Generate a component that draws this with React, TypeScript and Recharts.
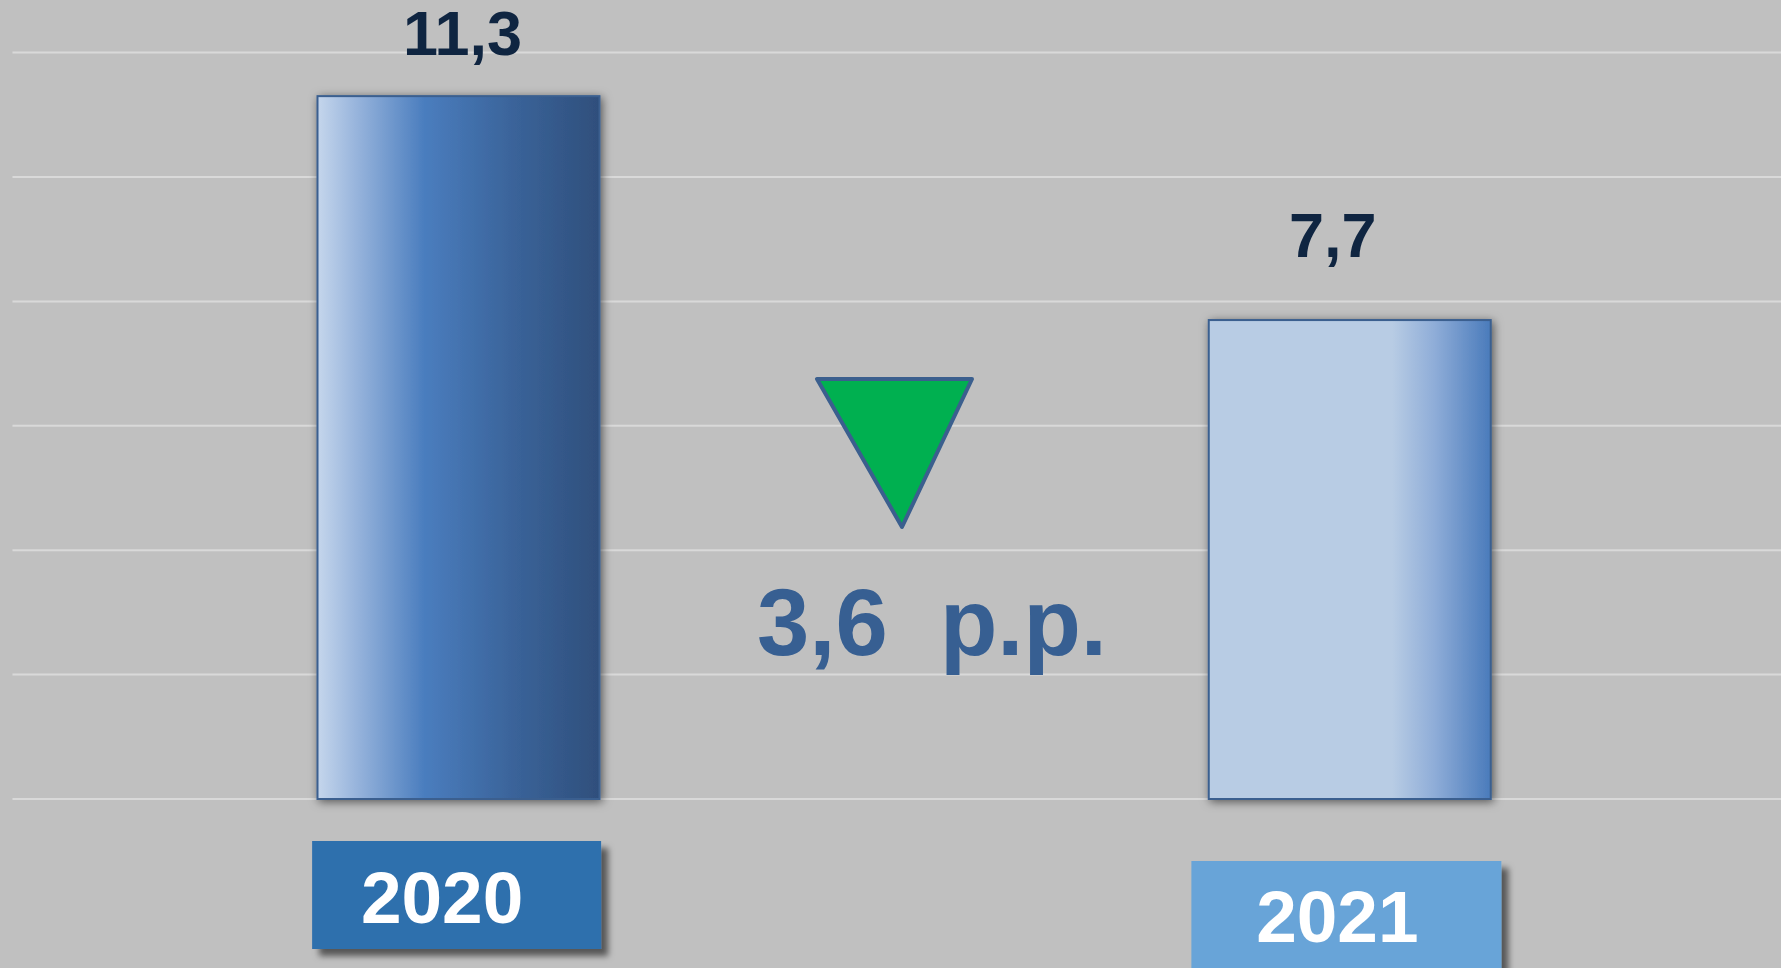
import React from 'react';
import { BarChart, Bar, XAxis, YAxis, CartesianGrid, LabelList } from 'recharts';

const years = ['2020', '2021'];
const values = [11.3, 7.7];
const yTicks = [0, 2, 4, 6, 8, 10, 12];

const data = years.map((year, i) => ({ year, value: values[i] }));
const change = values[0] - values[1];

const fmt = (v: number) => v.toFixed(1).replace('.', ',');

const FONT = '"Liberation Sans", Arial, sans-serif';

// per-bar styling
const BAR_FILLS = ['url(#grad2020)', 'url(#grad2021)'];
const LABEL_SHIFT = [
  { dx: 4, dy: -41 },
  { dx: -17, dy: -63 },
];
const TICK_BOX = [
  { left: -146, width: 289, top: 40, height: 108, fill: '#2e70ad', tx: -16, ty: 122 },
  { left: -158, width: 310, top: 60, height: 130, fill: '#68a4d8', tx: -12, ty: 141 },
];

const BarShape = (props: any) => {
  const { x, y, width, height, index } = props;
  return (
    <rect
      x={x}
      y={y}
      width={width}
      height={height}
      fill={BAR_FILLS[index]}
      stroke="#3a5f8f"
      strokeWidth={2}
      filter="url(#barShadow)"
    />
  );
};

const ValueLabel = (props: any) => {
  const { x, y, width, value, index } = props;
  const s = LABEL_SHIFT[index] || { dx: 0, dy: -40 };
  return (
    <text
      x={x + width / 2 + s.dx}
      y={y + s.dy}
      textAnchor="middle"
      fill="#0f2541"
      fontFamily={FONT}
      fontWeight="bold"
      fontSize={63}
    >
      {fmt(value)}
    </text>
  );
};

const YearTick = (props: any) => {
  const { x, y, payload, index } = props;
  const b = TICK_BOX[index] || TICK_BOX[0];
  return (
    <g>
      <rect
        x={x + b.left}
        y={y + b.top}
        width={b.width}
        height={b.height}
        fill={b.fill}
        filter="url(#boxShadow)"
      />
      <text
        x={x + b.tx}
        y={y + b.ty}
        textAnchor="middle"
        fill="#ffffff"
        fontFamily={FONT}
        fontWeight="bold"
        fontSize={73}
      >
        {payload.value}
      </text>
    </g>
  );
};

export default function App() {
  return (
    <div
      style={{
        position: 'absolute',
        left: 0,
        top: 0,
        width: 1781,
        height: 968,
        overflow: 'hidden',
        background: '#c0c0c0',
      }}
    >
      <svg width={0} height={0} style={{ position: 'absolute' }}>
        <defs>
          <linearGradient id="grad2020" x1="0" y1="0" x2="1" y2="0">
            <stop offset="0" stopColor="#c5d6ec" />
            <stop offset="0.13" stopColor="#9ab6dd" />
            <stop offset="0.38" stopColor="#4a7dbe" />
            <stop offset="0.7" stopColor="#3a6399" />
            <stop offset="1" stopColor="#2f4f7c" />
          </linearGradient>
          <linearGradient id="grad2021" x1="0" y1="0" x2="1" y2="0">
            <stop offset="0" stopColor="#b8cce4" />
            <stop offset="0.65" stopColor="#b8cce4" />
            <stop offset="0.8" stopColor="#8fadd8" />
            <stop offset="1" stopColor="#4a7bbb" />
          </linearGradient>
          <filter id="barShadow" x="-10%" y="-5%" width="125%" height="112%">
            <feDropShadow dx="2" dy="2" stdDeviation="5" floodColor="#000" floodOpacity="0.55" />
          </filter>
          <filter id="boxShadow" x="-10%" y="-10%" width="130%" height="140%">
            <feDropShadow dx="7" dy="7" stdDeviation="3" floodColor="#000" floodOpacity="0.55" />
          </filter>
        </defs>
      </svg>

      <BarChart
        width={1795}
        height={968}
        data={data}
        margin={{ top: 52.6, right: 0, left: 12.5, bottom: 0 }}
      >
        <CartesianGrid vertical={false} stroke="#d9d9d9" strokeWidth={2} />
        <YAxis hide domain={[0, 12]} ticks={yTicks} />
        <XAxis
          dataKey="year"
          height={169}
          axisLine={false}
          tickLine={false}
          tickSize={0}
          interval={0}
          tick={<YearTick />}
        />
        <Bar dataKey="value" barSize={282} shape={<BarShape />} isAnimationActive={false}>
          <LabelList dataKey="value" content={<ValueLabel />} />
        </Bar>
      </BarChart>

      {/* change annotation */}
      <svg
        width={1781}
        height={968}
        style={{ position: 'absolute', left: 0, top: 0, pointerEvents: 'none' }}
      >
        <polygon
          points="817,379 972,379 902,527"
          fill="#00b050"
          stroke="#3b5f8e"
          strokeWidth={4}
          strokeLinejoin="round"
        />
        <text
          x={757}
          y={655}
          xmlSpace="preserve"
          style={{ whiteSpace: 'pre' }}
          fill="#375f92"
          fontFamily={FONT}
          fontWeight="bold"
          fontSize={94}
        >
          {`${fmt(change)}  p.p.`}
        </text>
      </svg>
    </div>
  );
}
